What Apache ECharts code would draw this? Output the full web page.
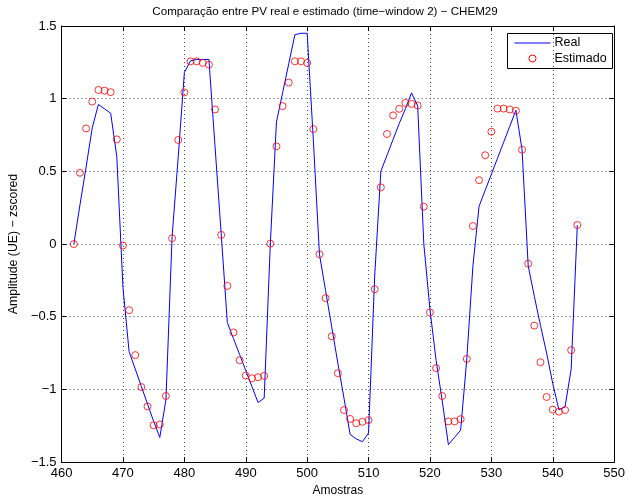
<!DOCTYPE html>
<html>
<head>
<meta charset="utf-8">
<script src="https://cdn.jsdelivr.net/npm/echarts@6/dist/echarts.min.js"></script>
<style>
  html, body { margin: 0; padding: 0; background: #fff; }
  #chart { width: 628px; height: 502px; }
</style>
</head>
<body>
<div id="chart"></div>
<script>
// Sample indices (x axis)
const amostras = [
  462, 463, 464, 465, 466, 467, 468, 469, 470, 471, 472, 473, 474, 475, 476, 477,
  478, 479, 480, 481, 482, 483, 484, 485, 486, 487, 488, 489, 490, 491, 492, 493,
  494, 495, 496, 497, 498, 499, 500, 501, 502, 503, 504, 505, 506, 507, 508, 509,
  510, 511, 512, 513, 514, 515, 516, 517, 518, 519, 520, 521, 522, 523, 524, 525,
  526, 527, 528, 529, 530, 531, 532, 533, 534, 535, 536, 537, 538, 539, 540, 541,
  542, 543, 544
];

// Measured PV (z-scored)
const real = [
  0.00, 0.27, 0.53, 0.80, 0.96, 0.93, 0.90, 0.60, -0.30, -0.74, -0.86, -0.98, -1.10, -1.22, -1.33, -1.07,
  0.05, 0.60, 1.18, 1.26, 1.27, 1.27, 1.27, 0.67, 0.07, -0.54, -0.65, -0.76, -0.87, -0.98, -1.09, -1.06,
  0.00, 0.84, 1.04, 1.24, 1.44, 1.45, 1.45, 0.72, -0.07, -0.32, -0.57, -0.82, -1.06, -1.31, -1.34, -1.36,
  -1.30, -0.22, 0.50, 0.61, 0.72, 0.83, 0.93, 1.04, 0.95, 0.00, -0.45, -0.80, -1.08, -1.38, -1.33, -1.28,
  -0.79, -0.15, 0.26, 0.37, 0.48, 0.59, 0.70, 0.81, 0.92, 0.65, -0.15, -0.36, -0.56, -0.75, -0.96, -1.14,
  -1.12, -0.86, 0.13
];

// Estimated PV (z-scored)
const estimado = [
  0.00, 0.49, 0.795, 0.98, 1.06, 1.055, 1.045, 0.72, -0.01, -0.455, -0.764, -0.984, -1.117, -1.247, -1.241, -1.045,
  0.04, 0.716, 1.043, 1.257, 1.257, 1.246, 1.234, 0.926, 0.063, -0.288, -0.608, -0.799, -0.905, -0.923, -0.916, -0.907,
  0.003, 0.672, 0.949, 1.111, 1.257, 1.257, 1.246, 0.791, -0.07, -0.372, -0.635, -0.889, -1.142, -1.203, -1.233, -1.223,
  -1.211, -0.311, 0.39, 0.757, 0.885, 0.930, 0.971, 0.964, 0.953, 0.257, -0.47, -0.853, -1.045, -1.22, -1.22, -1.205,
  -0.79, 0.124, 0.439, 0.611, 0.773, 0.932, 0.932, 0.926, 0.917, 0.649, -0.135, -0.561, -0.813, -1.052, -1.139, -1.153,
  -1.142, -0.73, 0.131
];

const xTicks = [460, 470, 480, 490, 500, 510, 520, 530, 540, 550];
const yTicks = [-1.5, -1, -0.5, 0, 0.5, 1, 1.5];

const FONT = '"Liberation Sans", Arial, Helvetica, sans-serif';
const fmtY = v => (v < 0 ? '\u2212' + String(Math.abs(v)) : String(v));

const chart = echarts.init(document.getElementById('chart'), null, { renderer: 'canvas' });

const G = { left: 57, right: 10, top: 26, bottom: 32 };
const gridStyle = { color: '#444', width: 1, type: [1, 3] };
const tickCommon = { show: true, inside: true, length: 5, lineStyle: { color: '#000', width: 1 } };

const legendX = 507, legendY = 33, legendW = 105, legendH = 35;

chart.setOption({
  animation: false,
  backgroundColor: '#fff',
  textStyle: { fontFamily: FONT },
  grid: { left: G.left, right: G.right, top: G.top, bottom: G.bottom, containLabel: false },
  xAxis: [
    {
      type: 'value', min: 460, max: 550, interval: 10, position: 'bottom',
      name: 'Amostras', nameLocation: 'middle', nameGap: 18,
      nameTextStyle: { fontFamily: FONT, fontSize: 12, color: '#000' },
      axisLine: { show: true, onZero: false, lineStyle: { color: '#000', width: 1 } },
      axisTick: tickCommon,
      axisLabel: { color: '#000', fontSize: 13, fontFamily: FONT, margin: 5,
        formatter: v => (xTicks.includes(v) ? String(v) : '') },
      splitLine: { show: true, lineStyle: gridStyle }
    },
    {
      type: 'value', min: 460, max: 550, interval: 10, position: 'top',
      axisLine: { show: true, onZero: false, lineStyle: { color: '#000', width: 1 } },
      axisTick: tickCommon, axisLabel: { show: false }, splitLine: { show: false }
    }
  ],
  yAxis: [
    {
      type: 'value', min: -1.5, max: 1.5, interval: 0.5, position: 'left',
      name: 'Amplitude (UE) \u2212 zscored', nameLocation: 'middle', nameGap: 40,
      nameTextStyle: { fontFamily: FONT, fontSize: 12.3, color: '#000' },
      axisLine: { show: true, onZero: false, lineStyle: { color: '#000', width: 1 } },
      axisTick: tickCommon,
      axisLabel: { color: '#000', fontSize: 13, fontFamily: FONT, margin: 5,
        formatter: v => (yTicks.includes(v) ? fmtY(v) : '') },
      splitLine: { show: true, lineStyle: gridStyle }
    },
    {
      type: 'value', min: -1.5, max: 1.5, interval: 0.5, position: 'right',
      axisLine: { show: true, onZero: false, lineStyle: { color: '#000', width: 1 } },
      axisTick: tickCommon, axisLabel: { show: false }, splitLine: { show: false }
    }
  ],
  series: [
    {
      name: 'Real', type: 'line', xAxisIndex: 0, yAxisIndex: 0,
      data: amostras.map((x, i) => [x, real[i]]),
      showSymbol: false, symbol: 'none',
      lineStyle: { color: '#0000ff', width: 1 },
      z: 2
    },
    {
      name: 'Estimado', type: 'scatter', xAxisIndex: 0, yAxisIndex: 0,
      data: amostras.map((x, i) => [x, estimado[i]]),
      symbol: 'circle', symbolSize: 7,
      itemStyle: { color: 'rgba(0,0,0,0)', borderColor: '#ff0000', borderWidth: 1 },
      z: 3
    }
  ],
  graphic: [
    {
      type: 'text', z: 10,
      style: { x: 325, y: 12, text: 'Compara\u00e7\u00e3o entre PV real e estimado (time\u2212window 2) \u2212 CHEM29',
        fill: '#000', font: '11.6px ' + FONT, align: 'center', verticalAlign: 'middle' }
    },
    {
      type: 'group', left: legendX, top: legendY, z: 20,
      children: [
        { type: 'rect', shape: { x: 0, y: 0, width: legendW, height: legendH },
          style: { fill: '#fff', stroke: '#000', lineWidth: 1 } },
        { type: 'line', shape: { x1: 7, y1: 9.5, x2: 43, y2: 9.5 },
          style: { stroke: '#0000ff', lineWidth: 1 } },
        { type: 'text', style: { x: 47, y: 9.5, text: 'Real', fill: '#000',
          font: '12.5px ' + FONT, verticalAlign: 'middle' } },
        { type: 'circle', shape: { cx: 25, cy: 25, r: 3.5 },
          style: { fill: 'none', stroke: '#ff0000', lineWidth: 1 } },
        { type: 'text', style: { x: 47, y: 25, text: 'Estimado', fill: '#000',
          font: '12.5px ' + FONT, verticalAlign: 'middle' } }
      ]
    }
  ]
});
</script>
</body>
</html>
